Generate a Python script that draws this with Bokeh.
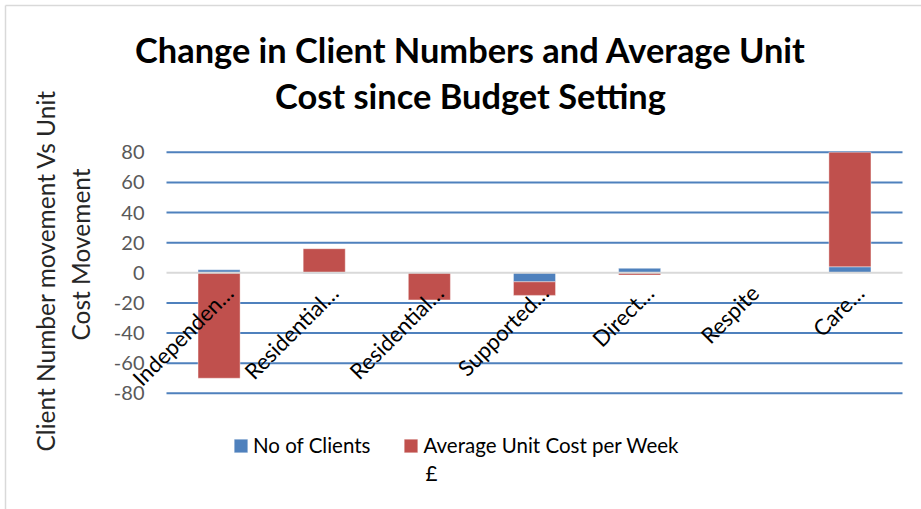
import math
from bokeh.plotting import figure
from bokeh.models import (Range1d, Label, LabelSet, Legend, LegendItem, ColumnDataSource)
from bokeh.core.properties import value
from bokeh.embed import file_html
from bokeh.resources import INLINE

# ---- data ----
categories = ["Independen…", "Residential…", "Residential…", "Supported…",
              "Direct…", "Respite", "Care…"]
clients = [2, -0.5, 0, -6, 3, 0, 4]
unit_cost = [-70, 16, -18, -9, -1.5, 0, 76]
series_names = ["No of Clients", "Average Unit Cost per Week"]
legend_wrap = "£"
y_ticks = [-80, -60, -40, -20, 0, 20, 40, 60, 80]
title_lines = ["Change in Client Numbers and Average Unit", "Cost since Budget Setting"]
y_title_lines = ["Client Number movement Vs Unit", "Cost Movement"]

FONT = "Lato"
BLUE = "#4F81BD"
RED = "#C0504D"

# ---- layout constants (pixels) ----
W, H = 921, 509
PLOT_L, PLOT_R = 166, 902      # plot area left / right edge
ZERO_Y = 272.3                 # screen y of value 0
PX_PER_UNIT = 244 / 162
n = len(categories)
PX_PER_CAT = (PLOT_R - PLOT_L) / n

xs = list(range(n))

# separate stacking of positive and negative values (Excel style)
pos_base = [0.0] * n
neg_base = [0.0] * n
stacks = []
for vals in (clients, unit_cost):
    bottoms, tops = [], []
    for i, v in enumerate(vals):
        if v >= 0:
            bottoms.append(pos_base[i]); tops.append(pos_base[i] + v); pos_base[i] += v
        else:
            bottoms.append(neg_base[i]); tops.append(neg_base[i] + v); neg_base[i] += v
    stacks.append((bottoms, tops))

x_lo = -0.5 - PLOT_L / PX_PER_CAT
x_hi = n - 0.5 + (W - PLOT_R) / PX_PER_CAT
y_lo = -(H - ZERO_Y) / PX_PER_UNIT
y_hi = ZERO_Y / PX_PER_UNIT

p = figure(width=W, height=H, output_backend="svg", toolbar_location=None, title=None,
           x_range=Range1d(x_lo, x_hi), y_range=Range1d(y_lo, y_hi),
           x_axis_location=None, y_axis_location=None,
           min_border=0)
p.outline_line_color = None
p.background_fill_color = "white"
p.border_fill_color = "white"
p.xgrid.visible = False
p.ygrid.visible = False

# chart border (left / top)
bx = x_lo + 5 / PX_PER_CAT
by = y_hi - 5 / PX_PER_UNIT
p.segment(x0=[bx, bx], y0=[y_lo, by], x1=[bx, x_hi], y1=[by, by],
          line_color="#d9d9d9", line_width=1.5)

# horizontal gridlines over the plot area
grid_ticks = [t for t in y_ticks if t != 0]
p.segment(x0=[-0.5] * len(grid_ticks), x1=[n - 0.5] * len(grid_ticks),
          y0=grid_ticks, y1=grid_ticks, line_color=BLUE, line_width=2)

# y tick labels
tick_src = ColumnDataSource(dict(x=[-0.5] * len(y_ticks), y=y_ticks,
                                 text=[str(t) for t in y_ticks]))
p.add_layout(LabelSet(x="x", y="y", text="text", source=tick_src, x_offset=-22,
                      text_align="right", text_baseline="middle",
                      text_font=value(FONT), text_font_size=value("20px"),
                      text_color="#595959"))

colors = [BLUE, RED]
renderers = []
for (bottoms, tops), c in zip(stacks, colors):
    src = ColumnDataSource(dict(x=xs, bottom=bottoms, top=tops))
    r = p.vbar(x="x", bottom="bottom", top="top", width=0.4, source=src,
               fill_color=c, line_color="white", line_alpha=0.4, line_width=1)
    renderers.append(r)

# grey zero line (category axis)
p.segment(x0=[-0.5], x1=[n - 0.5], y0=[0], y1=[0], line_color="#d9d9d9", line_width=2)

# category labels (rotated, next to the zero line)
for x, name in zip(xs, categories):
    p.add_layout(Label(x=x, y=0, text=name, angle=math.pi / 4,
                       text_align="right", text_baseline="middle",
                       x_offset=10, y_offset=-16, text_font=FONT,
                       text_font_size="22px", text_color="black"))

legend = Legend(items=[LegendItem(label=s, renderers=[r])
                       for s, r in zip(series_names, renderers)],
                orientation="horizontal", location=(232, 52),
                glyph_width=17, glyph_height=17, label_standoff=4, spacing=32,
                padding=0, margin=0, border_line_color=None,
                background_fill_alpha=0,
                label_text_font=FONT, label_text_font_size="20.5px",
                label_text_color="black")
p.add_layout(legend, "center")
p.add_layout(Label(x=425, y=H - 480 + 8, x_units="screen", y_units="screen",
                   text=legend_wrap, text_font=FONT, text_font_size="20.5px",
                   text_color="black", text_baseline="alphabetic"))

# chart title
for i, t in enumerate(title_lines):
    p.add_layout(Label(x=470, y=H - 62 - 46 * i + 13, x_units="screen", y_units="screen",
                       text=t, text_align="center", text_baseline="alphabetic",
                       text_font=FONT, text_font_size="34.4px", text_font_style="bold",
                       text_color="black"))

# y axis title (two lines)
y_title_centres = [270, 254]
for i, (t, cy) in enumerate(zip(y_title_lines, y_title_centres)):
    p.add_layout(Label(x=45 + 35 * i, y=H - cy, x_units="screen", y_units="screen",
                       text=t, angle=math.pi / 2, text_align="center",
                       text_baseline="middle", text_font=FONT,
                       text_font_size="24.5px", text_color="#262626"))

open("out.html", "w").write(file_html(p, INLINE))
